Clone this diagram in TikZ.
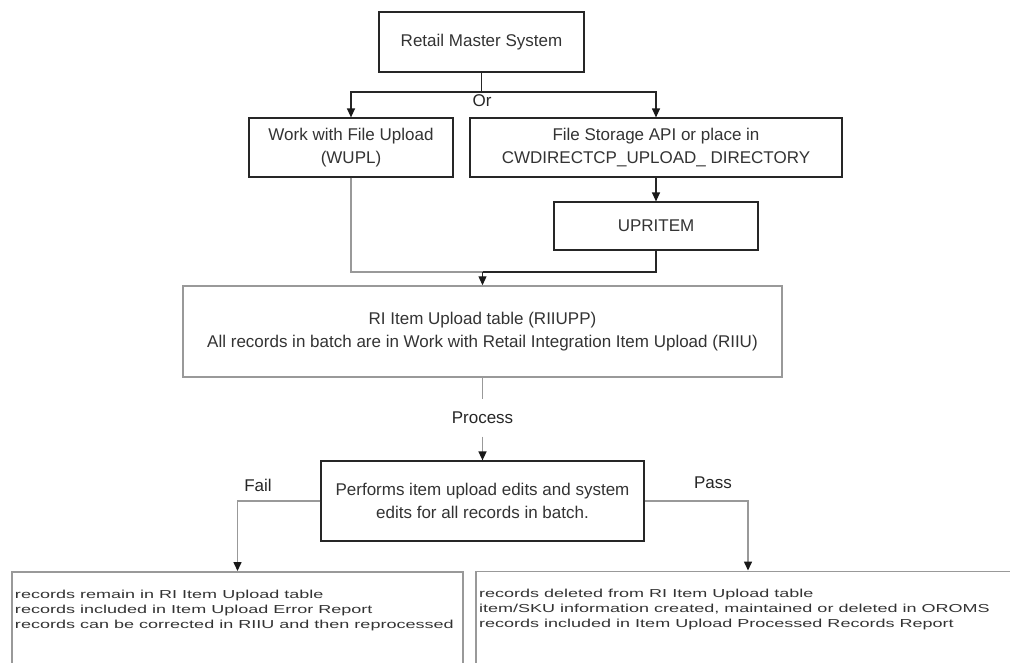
\documentclass[tikz,border=0pt]{standalone}
\usepackage{fontspec}
\setmainfont{Liberation Sans}
\usetikzlibrary{arrows.meta}
\newcommand{\boxlines}[1]{\scalebox{1.06}[0.68]{\begin{tabular}{@{}l@{}}#1\end{tabular}}}
\tikzset{
    flowbox/.style={draw=black!85, line width=1.2pt, text=black!80, align=center,
        inner sep=0pt, font=\fontsize{17}{23}\selectfont},
    greybox/.style={flowbox, draw=black!40, line width=1.5pt},
    listbox/.style={greybox, anchor=north, align=left, font=\fontsize{17}{22}\selectfont},
    tag/.style={text=black!85, inner sep=0pt, font=\fontsize{17}{20}\selectfont},
    line/.style={draw=black!85, line width=1.2pt},
    faint/.style={draw=black!40, line width=1.5pt},
    tip/.style={-{Triangle[length=9pt, width=8pt, color=black!90]}}
}

\begin{document}
\begin{tikzpicture}[x=1pt, y=-1pt]
    \useasboundingbox (0,0) rectangle (1010,662);
    \clip (0,0) rectangle (1010,662);

    \node[flowbox, minimum width=205pt, minimum height=60pt] (rms) at (481.5,42) {Retail Master System};
    \node[flowbox, minimum width=204pt, minimum height=59pt] (wupl) at (351,147.5) {Work with File Upload\\(WUPL)};
    \node[flowbox, minimum width=372pt, minimum height=59pt] (fsa) at (656,147.5) {File Storage API or place in\\CWDIRECTCP\_UPLOAD\_ DIRECTORY};
    \node[flowbox, minimum width=204pt, minimum height=48pt] (upritem) at (656,226) {UPRITEM};
    \node[greybox, minimum width=599pt, minimum height=91pt] (riiupp) at (482.5,331.5) {RI Item Upload table (RIIUPP)\\All records in batch are in Work with Retail Integration Item Upload (RIIU)};
    \node[flowbox, minimum width=323pt, minimum height=80pt] (perf) at (482.5,501) {Performs item upload edits and system\\edits for all records in batch.};

    % result boxes run off the bottom edge
    \node[listbox, minimum width=451pt] (failbox) at (237.5,571) {\parbox[c][105pt][t]{445pt}{\vspace*{16pt}\boxlines{records remain in RI Item Upload table\\records included in Item Upload Error Report\\records can be corrected in RIIU and then reprocessed}}};
    \node[listbox, minimum width=544pt] (passbox) at (748,570.5) {\parbox[c][105pt][t]{538pt}{\vspace*{16pt}\boxlines{records deleted from RI Item Upload table\\item/SKU information created, maintained or deleted in OROMS\\records included in Item Upload Processed Records Report}}};

    \coordinate (split) at (481.5,92);
    \coordinate (merge) at (482.5,272);

    \draw[line] (rms.south) -- (split);
    \draw[line, tip] (split) -| (wupl.north);
    \draw[line, tip] (split) -| (fsa.north);
    \node[tag] (or) at (482,101) {Or};

    \draw[line, tip] (fsa.south) -- (upritem.north);
    \draw[faint] (wupl.south) |- (merge);
    \draw[line] (upritem.south) |- (merge);
    \draw[line, tip] (merge) -- (riiupp.north);

    \node[tag, minimum height=37pt] (proc) at (482.5,418) {Process};
    \draw[faint] (riiupp.south) -- (proc.north);
    \draw[faint, tip] (proc.south) -- (perf.north);

    \draw[faint, tip] (perf.west) -| (failbox.north);
    \draw[faint, tip] (perf.east) -| (passbox.north);
    \node[tag] (fail) at (258,485) {Fail};
    \node[tag] (pass) at (713,483) {Pass};
\end{tikzpicture}
\end{document}
